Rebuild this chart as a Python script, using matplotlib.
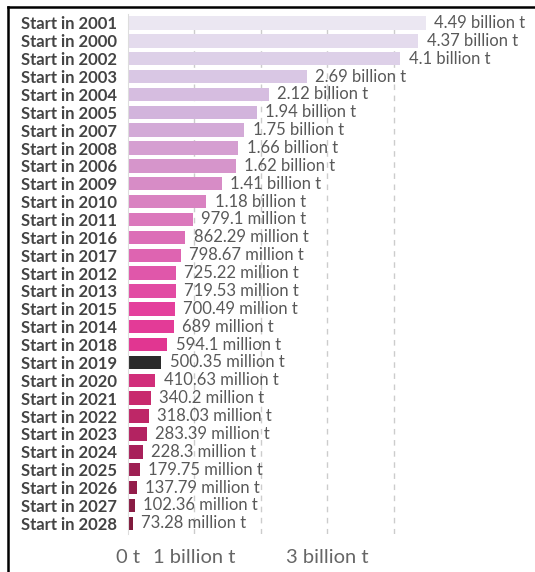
import matplotlib.pyplot as plt
from matplotlib.colors import LinearSegmentedColormap
from matplotlib.lines import Line2D

# data
labels = ["Start in 2001", "Start in 2000", "Start in 2002", "Start in 2003",
          "Start in 2004", "Start in 2005", "Start in 2007", "Start in 2008",
          "Start in 2006", "Start in 2009", "Start in 2010", "Start in 2011",
          "Start in 2016", "Start in 2017", "Start in 2012", "Start in 2013",
          "Start in 2015", "Start in 2014", "Start in 2018", "Start in 2019",
          "Start in 2020", "Start in 2021", "Start in 2022", "Start in 2023",
          "Start in 2024", "Start in 2025", "Start in 2026", "Start in 2027",
          "Start in 2028"]
values = [4.49e9, 4.37e9, 4.1e9, 2.69e9, 2.12e9, 1.94e9, 1.75e9, 1.66e9,
          1.62e9, 1.41e9, 1.18e9, 979.1e6, 862.29e6, 798.67e6, 725.22e6,
          719.53e6, 700.49e6, 689e6, 594.1e6, 500.35e6, 410.63e6, 340.2e6,
          318.03e6, 283.39e6, 228.3e6, 179.75e6, 137.79e6, 102.36e6, 73.28e6]
highlight = "Start in 2019"
xtick_vals = [0, 1e9, 3e9]
xtick_labels = ["0 t", "1 billion t", "3 billion t"]
grid_vals = [1e9, 2e9, 3e9, 4e9]


def fmt(v):
    if v >= 1e9:
        return f"{v / 1e9:g} billion t"
    return f"{v / 1e6:g} million t"


cmap = LinearSegmentedColormap.from_list("grad", [
    (0.00, "#ebe7f2"), (0.07, "#ddd0e8"), (0.18, "#d2b3dc"),
    (0.32, "#d78cc6"), (0.46, "#de65b2"), (0.57, "#e4409c"),
    (0.64, "#e23692"), (0.75, "#c92a6e"), (0.86, "#a8205a"),
    (1.00, "#7f1a3c")])

n = len(labels)
colors = [cmap(i / (n - 1)) for i in range(n)]
colors = ["#2b2b2b" if l == highlight else c for l, c in zip(labels, colors)]

plt.rcParams['font.family'] = ['Lato', 'DejaVu Sans']
fig = plt.figure(figsize=(5.35, 5.72), dpi=100)
ax = fig.add_axes([128 / 535, 1 - 534 / 572, 400 / 535, 520 / 572])

ypos = list(range(n))
ax.barh(ypos, values, height=0.75, color=colors, zorder=2)
for g in grid_vals:
    ax.axvline(g, color="#cccccc", lw=1, ls=(0, (4, 4)), zorder=1)

for y, v in zip(ypos, values):
    ax.annotate(fmt(v), (v, y), xytext=(6, 0), textcoords="offset points",
                va="center", ha="left", fontsize=12, color="#595959", zorder=3)

ax.set_xlim(0, 400 / 66.4 * 1e9)
ax.set_ylim(n - 1 + 0.6, -0.5)
ax.set_yticks(ypos)
ax.set_yticklabels(labels, fontsize=12, fontweight="bold", color="#444444")
ax.set_xticks(xtick_vals)
ax.set_xticklabels(xtick_labels, fontsize=14.5, color="#666666")
ax.tick_params(axis="both", length=0)
ax.tick_params(axis="y", pad=8)
ax.tick_params(axis="x", pad=11)
for s in ["top", "right", "bottom"]:
    ax.spines[s].set_visible(False)
ax.spines["left"].set_color("#dddddd")

# frame lines top and left
fig.add_artist(Line2D([8 / 535, 1], [1 - 7 / 572, 1 - 7 / 572], color="black", lw=1.8))
fig.add_artist(Line2D([8 / 535, 8 / 535], [0, 1 - 7 / 572], color="black", lw=1.8))

fig.savefig("out.png", dpi=100)
